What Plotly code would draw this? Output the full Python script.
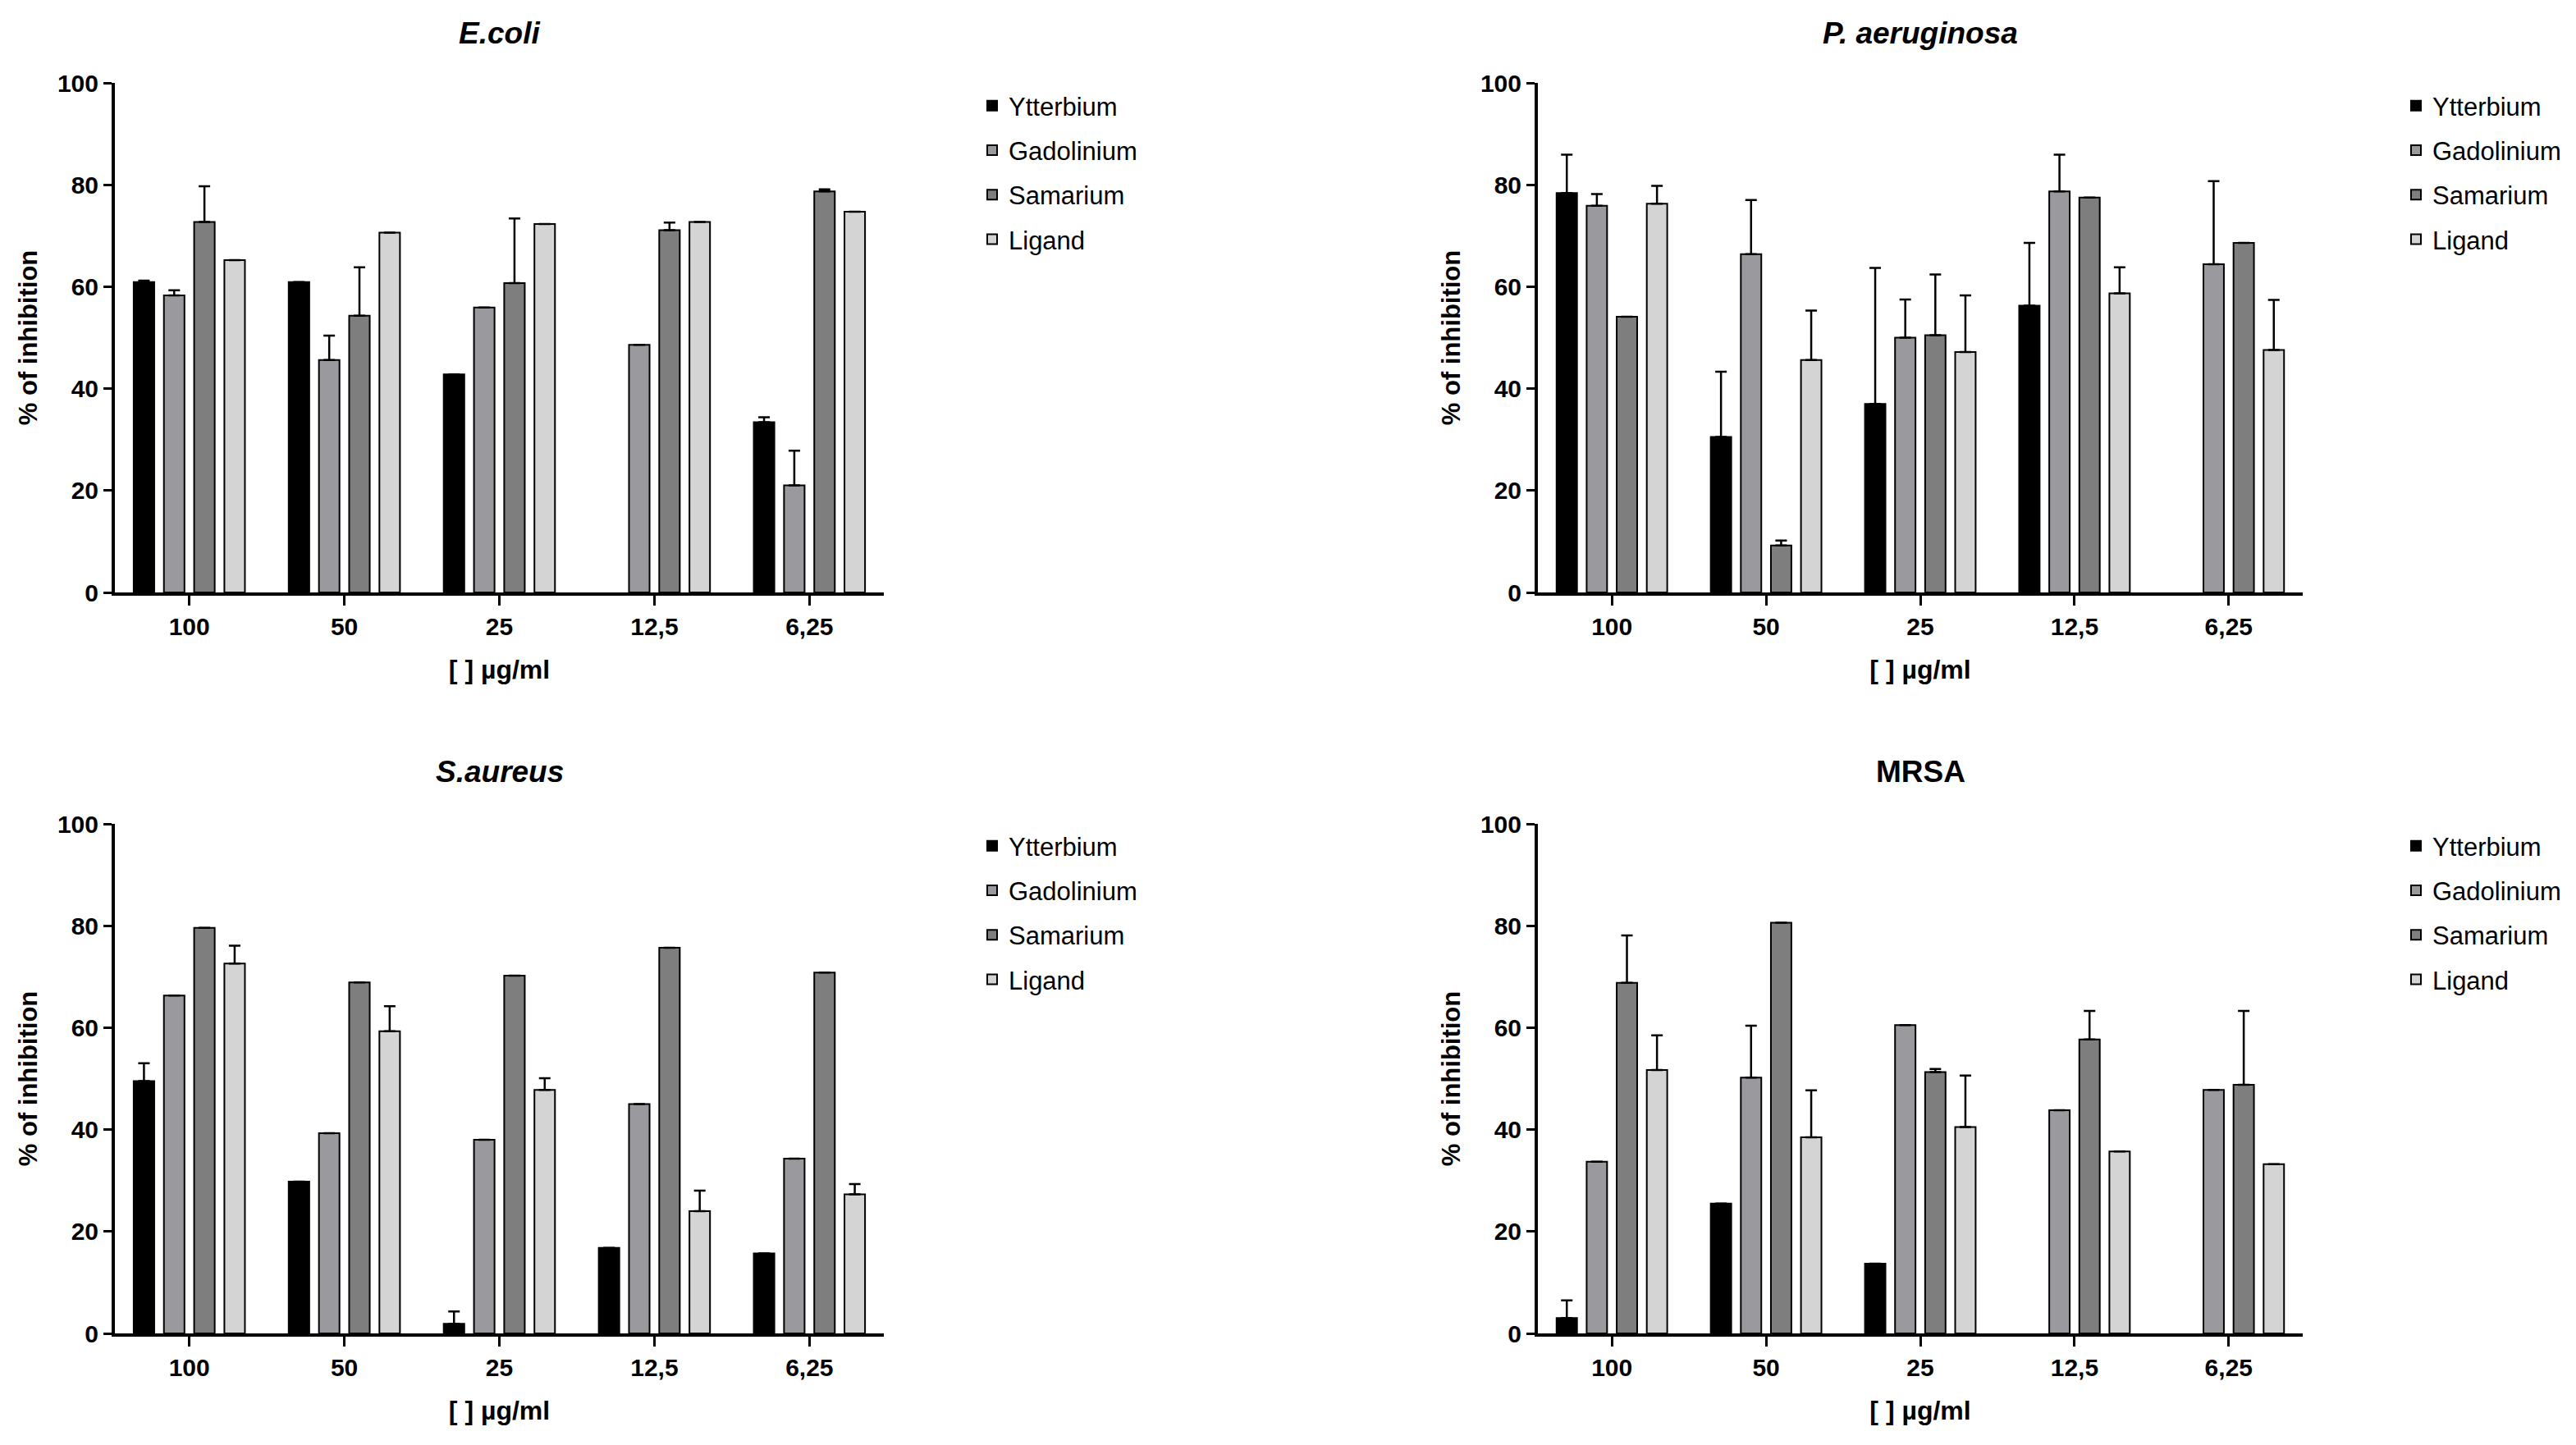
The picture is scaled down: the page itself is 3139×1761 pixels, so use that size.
import plotly.graph_objects as go

# categories (concentration, µg/ml) and series
concentrations = ["100", "50", "25", "12,5", "6,25"]
series_names = ["Ytterbium", "Gadolinium", "Samarium", "Ligand"]
panel_titles = ["<i>E.coli</i>", "<i>P. aeruginosa</i>", "<i>S.aureus</i>", "MRSA"]

# E.coli - means and upper SD
ecoli_ytterbium = [60.9, 60.9, 42.8, None, 33.4]
ecoli_gadolinium = [58.3, 45.6, 55.9, 48.6, 21.0]
ecoli_samarium = [72.7, 54.3, 60.7, 71.1, 78.7]
ecoli_ligand = [65.2, 70.6, 72.3, 72.7, 74.7]
ecoli_ytterbium_sd = [0.3, 0, 0, 0, 1.0]
ecoli_gadolinium_sd = [1.0, 4.8, 0, 0, 6.8]
ecoli_samarium_sd = [7.0, 9.5, 12.7, 1.5, 0.4]
ecoli_ligand_sd = [0, 0, 0, 0, 0]

# P. aeruginosa
paer_ytterbium = [78.4, 30.5, 37.0, 56.3, None]
paer_gadolinium = [75.9, 66.4, 50.0, 78.7, 64.4]
paer_samarium = [54.1, 9.2, 50.5, 77.5, 68.6]
paer_ligand = [76.3, 45.6, 47.2, 58.7, 47.6]
paer_ytterbium_sd = [7.5, 12.8, 26.7, 12.3, 0]
paer_gadolinium_sd = [2.3, 10.6, 7.5, 7.2, 16.3]
paer_samarium_sd = [0, 1.0, 11.9, 0, 0]
paer_ligand_sd = [3.5, 9.7, 11.1, 5.1, 9.8]

# S.aureus
saur_ytterbium = [49.5, 29.8, 1.9, 16.8, 15.7]
saur_gadolinium = [66.3, 39.3, 38.0, 45.0, 34.3]
saur_samarium = [79.6, 68.9, 70.2, 75.7, 70.8]
saur_ligand = [72.6, 59.3, 47.8, 24.0, 27.3]
saur_ytterbium_sd = [3.5, 0, 2.4, 0, 0]
saur_gadolinium_sd = [0, 0, 0, 0, 0]
saur_samarium_sd = [0, 0, 0, 0, 0]
saur_ligand_sd = [3.5, 4.9, 2.3, 4.0, 2.0]

# MRSA
mrsa_ytterbium = [3.0, 25.5, 13.7, None, None]
mrsa_gadolinium = [33.7, 50.2, 60.5, 43.8, 47.8]
mrsa_samarium = [68.8, 80.6, 51.3, 57.7, 48.8]
mrsa_ligand = [51.7, 38.5, 40.5, 35.7, 33.2]
mrsa_ytterbium_sd = [3.5, 0, 0, 0, 0]
mrsa_gadolinium_sd = [0, 10.2, 0, 0, 0]
mrsa_samarium_sd = [9.3, 0, 0.6, 5.6, 14.5]
mrsa_ligand_sd = [6.8, 9.2, 10.1, 0, 0]

panels = [
    ([ecoli_ytterbium, ecoli_gadolinium, ecoli_samarium, ecoli_ligand],
     [ecoli_ytterbium_sd, ecoli_gadolinium_sd, ecoli_samarium_sd, ecoli_ligand_sd]),
    ([paer_ytterbium, paer_gadolinium, paer_samarium, paer_ligand],
     [paer_ytterbium_sd, paer_gadolinium_sd, paer_samarium_sd, paer_ligand_sd]),
    ([saur_ytterbium, saur_gadolinium, saur_samarium, saur_ligand],
     [saur_ytterbium_sd, saur_gadolinium_sd, saur_samarium_sd, saur_ligand_sd]),
    ([mrsa_ytterbium, mrsa_gadolinium, mrsa_samarium, mrsa_ligand],
     [mrsa_ytterbium_sd, mrsa_gadolinium_sd, mrsa_samarium_sd, mrsa_ligand_sd]),
]

colors = ["#000000", "#9a9a9e", "#7e7e7e", "#d4d4d4"]

W, H = 3139, 1761
FONT = "Liberation Sans, Arial, sans-serif"
bold = dict(family=FONT, size=30, weight="bold", color="black")

# pixel boxes of the four plot areas (left, right, top, bottom);
# the page body adds ~8px, so everything sits 8px up/left
boxes = [
    (132, 1069, 93, 714),
    (1866, 2798, 93, 714),
    (132, 1069, 996, 1617),
    (1866, 2798, 996, 1617),
]
legend_pos = [(1181, 94), (2916, 94), (1181, 996), (2916, 996)]
title_y = [32, 933]

fig = go.Figure()

for p, (values, sds) in enumerate(panels):
    suffix = "" if p == 0 else str(p + 1)
    legend_name = "legend" + suffix
    for s, name in enumerate(series_names):
        fig.add_trace(go.Bar(
            x=concentrations, y=values[s], name=name,
            marker=dict(color=colors[s], line=dict(color="black", width=2)),
            error_y=dict(type="data", symmetric=False, array=sds[s],
                         arrayminus=[0] * len(concentrations),
                         color="black", thickness=2.5, width=7),
            xaxis="x" + suffix, yaxis="y" + suffix,
            legend=legend_name, legendgroup=name,
        ))

    l, r, t, b = boxes[p]
    fig.update_layout(**{
        "xaxis" + suffix: dict(
            domain=[l / W, r / W], anchor="y" + suffix, type="category",
            range=[-0.48, 4.48], showline=True, linecolor="black", linewidth=4,
            ticks="outside", ticklen=12, tickwidth=3, tickcolor="black",
            tickfont=bold,
            title=dict(text="[ ] µg/ml", standoff=27, font=dict(bold, size=32)),
            showgrid=False, zeroline=False, fixedrange=True,
        ),
        "yaxis" + suffix: dict(
            domain=[1 - b / H, 1 - t / H], anchor="x" + suffix,
            range=[0, 100], tickvals=[0, 20, 40, 60, 80, 100],
            showline=True, linecolor="black", linewidth=4,
            ticks="outside", ticklen=10, tickwidth=3, tickcolor="black",
            tickfont=bold,
            title=dict(text="% of inhibition", standoff=16, font=dict(bold, size=31)),
            showgrid=False, zeroline=False, fixedrange=True,
        ),
        legend_name: dict(
            x=legend_pos[p][0] / W, y=1 - legend_pos[p][1] / H,
            xanchor="left", yanchor="top", bgcolor="rgba(0,0,0,0)",
            font=dict(family=FONT, size=31, color="black"),
            tracegroupgap=11, traceorder="grouped",
        ),
    })

    fig.add_annotation(
        text=panel_titles[p], xref="paper", yref="paper",
        x=(l + r) / 2 / W, y=1 - title_y[p // 2] / H,
        showarrow=False, xanchor="center", yanchor="middle",
        font=dict(bold, size=37),
    )

fig.update_layout(
    width=W, height=H,
    margin=dict(l=0, r=0, t=0, b=0, autoexpand=False),
    plot_bgcolor="white", paper_bgcolor="white",
    barmode="group", bargap=0.22, bargroupgap=0.32,
    font=dict(family=FONT, color="black"),
)

fig.write_html("out.html")
